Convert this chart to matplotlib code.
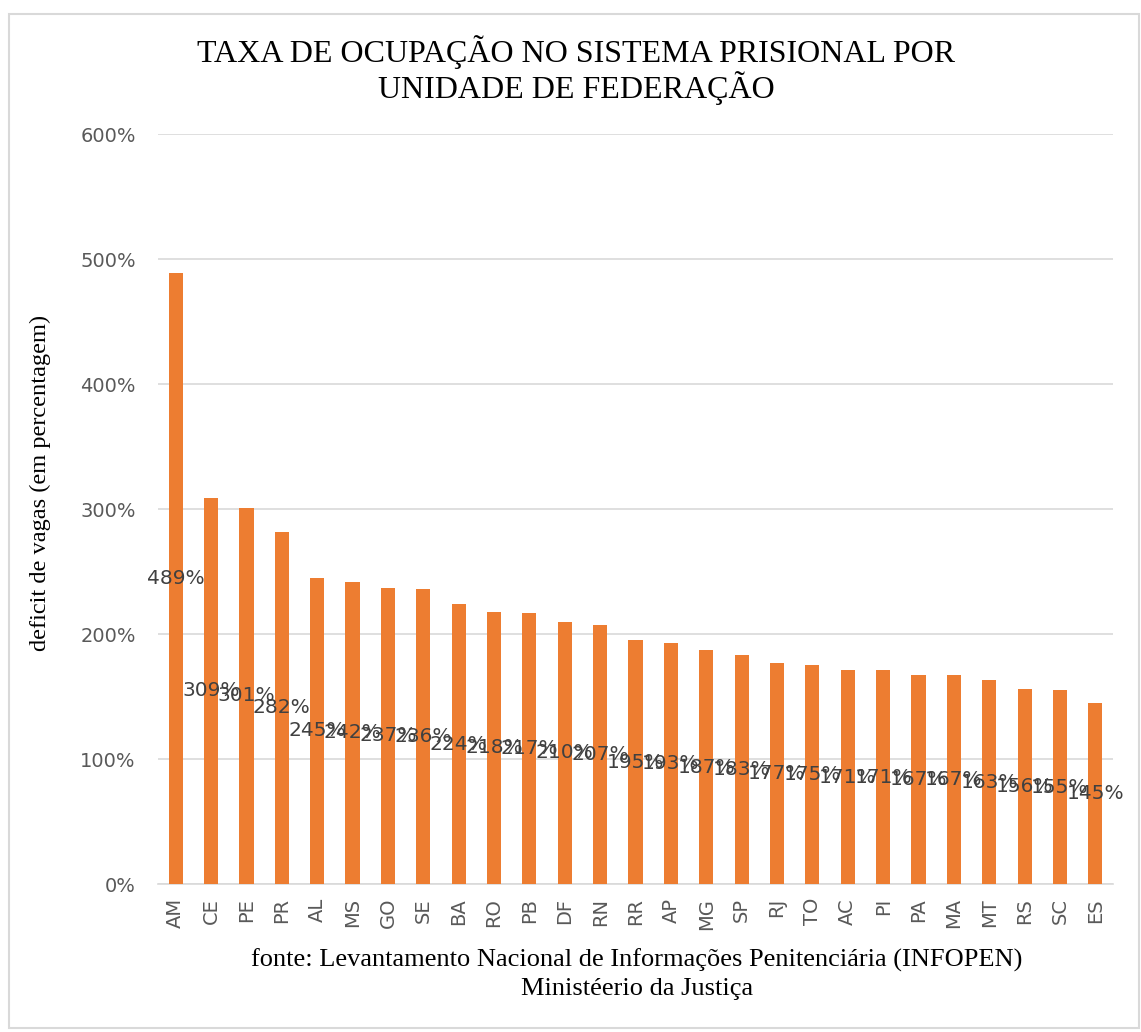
import matplotlib.pyplot as plt
from matplotlib.patches import Rectangle
from matplotlib.ticker import FuncFormatter
import numpy as np

estados = ['AM', 'CE', 'PE', 'PR', 'AL', 'MS', 'GO', 'SE', 'BA', 'RO', 'PB', 'DF', 'RN', 'RR',
           'AP', 'MG', 'SP', 'RJ', 'TO', 'AC', 'PI', 'PA', 'MA', 'MT', 'RS', 'SC', 'ES']
taxa = [489, 309, 301, 282, 245, 242, 237, 236, 224, 218, 217, 210, 207, 195,
        193, 187, 183, 177, 175, 171, 171, 167, 167, 163, 156, 155, 145]

titulo = 'TAXA DE OCUPAÇÃO NO SISTEMA PRISIONAL POR\nUNIDADE DE FEDERAÇÃO'
rotulo_y = 'deficit de vagas (em percentagem)'
fonte = 'fonte: Levantamento Nacional de Informações Penitenciária (INFOPEN)\nMinistéerio da Justiça'

laranja = '#ED7D31'
cinza = '#595959'

fig = plt.figure(figsize=(11.41, 10.32), dpi=100)
ax = fig.add_axes([0.1385, 0.1434, 0.837, 0.7266])

x = np.arange(len(estados))
ax.bar(x, taxa, width=0.4, color=laranja, zorder=3)

# rótulos no meio da barra
for xi, v in zip(x, taxa):
    ax.text(xi, v / 2, f'{v}%', ha='center', va='center', fontsize=14.5,
            color='#404040', family='DejaVu Sans', zorder=4)

ax.set_xlim(-0.5, len(estados) - 0.5)
ax.set_ylim(0, 600)
ax.set_yticks(range(0, 601, 100))
ax.yaxis.set_major_formatter(FuncFormatter(lambda v, p: f'{v:.0f}%'))
ax.set_xticks(x)
ax.set_xticklabels(estados, rotation=90)
ax.tick_params(axis='both', length=0, labelsize=14, labelcolor=cinza)
ax.tick_params(axis='y', pad=16)
ax.tick_params(axis='x', pad=10)
ax.grid(axis='y', color='#D9D9D9', linewidth=1.2, zorder=0)
for s in ['top', 'right', 'left']:
    ax.spines[s].set_visible(False)
ax.spines['bottom'].set_color('#D9D9D9')
ax.spines['bottom'].set_linewidth(1.2)

ax.set_ylabel(rotulo_y, family='Liberation Serif', fontsize=17.6, color='black')
ax.yaxis.set_label_coords(-0.112, 0.535)

fig.text(0.505, 0.932, titulo, ha='center', va='center', family='Liberation Serif',
         fontsize=23, linespacing=1.1)
fig.text(0.558, 0.056, fonte, ha='center', va='center', family='Liberation Serif',
         fontsize=19, linespacing=1.35)

fig.add_artist(Rectangle((0.008, 0.004), 0.99, 0.982, transform=fig.transFigure,
                         fill=False, edgecolor='#D9D9D9', linewidth=1.5))

fig.savefig('out.png', dpi=100)
